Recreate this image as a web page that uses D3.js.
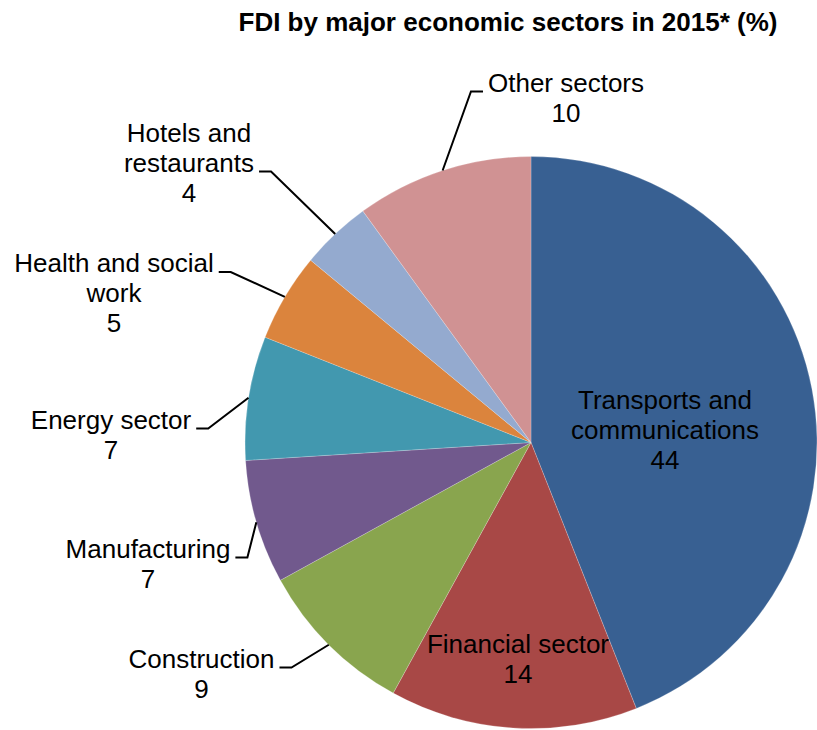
<!DOCTYPE html>
<html>
<head>
<meta charset="utf-8">
<script src="https://cdn.jsdelivr.net/npm/d3@7"></script>
<style>
  body { margin: 0; background: #fff; }
  text { font-family: "Liberation Sans", Arial, sans-serif; fill: #000; }
</style>
</head>
<body>
<svg id="chart" width="817" height="730"></svg>
<script>
// FDI shares by economic sector, 2015 (%)
const sectors = ["Transports and communications", "Financial sector", "Construction", "Manufacturing",
                 "Energy sector", "Health and social work", "Hotels and restaurants", "Other sectors"];
const shares = [44, 14, 9, 7, 7, 5, 4, 10];
const colors = ["#386092", "#A84846", "#89A54E", "#71598D", "#4298AF", "#DB843D", "#94AACF", "#D09293"];
// how each sector name wraps in its label
const labelLines = [["Transports and", "communications"], ["Financial sector"], ["Construction"], ["Manufacturing"],
                    ["Energy sector"], ["Health and social", "work"], ["Hotels and", "restaurants"], ["Other sectors"]];
const title = "FDI by major economic sectors in 2015* (%)";

// label placement: centre x, first baseline, which line carries the leader, and side of the leader
const labelLayout = [
  { x: 665,   y: 409,   inside: true },
  { x: 518,   y: 653,   inside: true },
  { x: 201.5, y: 667.5, hook: 0, side: "left" },
  { x: 148,   y: 557.5, hook: 0, side: "left" },
  { x: 111,   y: 428.5, hook: 0, side: "left" },
  { x: 114,   y: 272,   hook: 0, side: "left" },
  { x: 189,   y: 141.5, hook: 1, side: "left" },
  { x: 566,   y: 91.5,  hook: 0, side: "right" }
];

const cx = 531, cy = 442.5, R = 286;
const lineGap = 30, fontSize = 26;

const svg = d3.select("#chart");

svg.append("text")
  .attr("x", 508).attr("y", 31)
  .attr("text-anchor", "middle")
  .attr("font-size", 26).attr("font-weight", "bold")
  .text(title);

const data = sectors.map((s, i) => ({ name: s, value: shares[i], color: colors[i], lines: labelLines[i], layout: labelLayout[i] }));

const pie = d3.pie().value(d => d.value).sort(null).startAngle(0).endAngle(2 * Math.PI);
const arcs = pie(data);
const arc = d3.arc().innerRadius(0).outerRadius(R);

const g = svg.append("g").attr("transform", `translate(${cx},${cy})`);
g.selectAll("path.slice")
  .data(arcs)
  .join("path")
  .attr("class", "slice")
  .attr("d", arc)
  .attr("fill", d => d.data.color)
  .attr("stroke", "#ffffff")
  .attr("stroke-opacity", 0.35)
  .attr("stroke-width", 0.6);

// labels and leader lines
const labels = svg.append("g");
arcs.forEach(a => {
  const d = a.data, L = d.layout;
  const t = labels.append("text")
    .attr("text-anchor", "middle")
    .attr("font-size", fontSize);
  const lines = d.lines.concat([String(d.value)]);
  lines.forEach((ln, k) => {
    t.append("tspan").attr("x", L.x).attr("y", L.y + k * lineGap).text(ln);
  });
  if (L.inside) return;

  // leader: short horizontal hook beside the text, then straight to the slice edge
  const hookSpan = t.selectAll("tspan").nodes()[L.hook];
  const w = hookSpan.getComputedTextLength();
  const yHook = L.y + L.hook * lineGap;
  const mid = (a.startAngle + a.endAngle) / 2;
  const px = cx + R * Math.sin(mid), py = cy - R * Math.cos(mid);
  let x0, x1;
  if (L.side === "left") { x0 = L.x + w / 2 + 5; x1 = x0 + 12; }
  else { x0 = L.x - w / 2 - 5; x1 = x0 - 12; }
  labels.append("path")
    .attr("d", d3.line()([[x0, yHook], [x1, yHook], [px, py]]))
    .attr("fill", "none")
    .attr("stroke", "#000")
    .attr("stroke-width", 2);
});
</script>
</body>
</html>
